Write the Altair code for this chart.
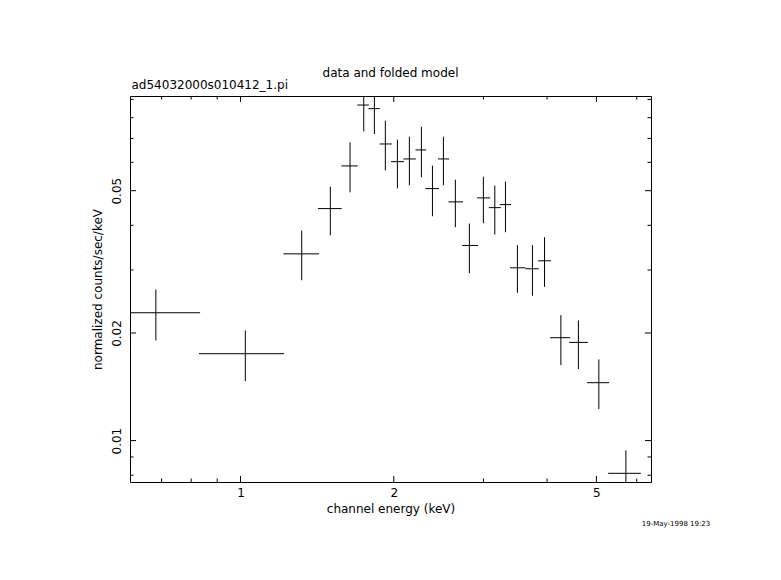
import altair as alt
import pandas as pd

# ---- data ----
energy = [0.682, 1.022, 1.319, 1.501, 1.641, 1.746, 1.832, 1.925, 2.033, 2.146, 2.266, 2.382, 2.503,
          2.642, 2.815, 2.999, 3.158, 3.314, 3.498, 3.744, 3.954, 4.258, 4.609, 5.055, 5.713]
e_lo = [0.607, 0.829, 1.214, 1.420, 1.578, 1.696, 1.783, 1.877, 1.976, 2.089, 2.206, 2.307, 2.443,
        2.560, 2.724, 2.915, 3.074, 3.230, 3.384, 3.627, 3.841, 4.056, 4.420, 4.794, 5.272]
e_hi = [0.833, 1.218, 1.427, 1.580, 1.699, 1.786, 1.877, 1.982, 2.093, 2.210, 2.315, 2.455, 2.568,
        2.736, 2.928, 3.092, 3.245, 3.401, 3.627, 3.854, 4.074, 4.441, 4.809, 5.297, 6.112]
rate = [0.02278, 0.0175, 0.03329, 0.04455, 0.05864, 0.0868, 0.0848, 0.06755, 0.06028, 0.06134, 0.06501,
        0.05067, 0.06134, 0.04652, 0.03513, 0.04773, 0.04483, 0.04571, 0.03043, 0.03024, 0.03183,
        0.0194, 0.01882, 0.01452, 0.0081]
r_lo = [0.01906, 0.01467, 0.02809, 0.03753, 0.04947, 0.07325, 0.07204, 0.057, 0.05077, 0.05176, 0.05448,
        0.04241, 0.05176, 0.03951, 0.02939, 0.04054, 0.0377, 0.03826, 0.02591, 0.02541, 0.02693,
        0.01626, 0.01585, 0.01225, 0.0074]
r_hi = [0.02646, 0.02033, 0.03868, 0.05132, 0.06826, 0.1015, 0.098, 0.07847, 0.06945, 0.07079, 0.07551,
        0.05875, 0.07079, 0.05369, 0.04046, 0.05473, 0.05166, 0.05301, 0.0352, 0.0352, 0.03705,
        0.02243, 0.02168, 0.01687, 0.00939]

x_major = [1, 2, 5]
x_minor = [0.7, 0.8, 0.9, 3, 4, 6]
y_major = [0.01, 0.02, 0.05]
y_minor = [0.008, 0.009, 0.03, 0.04, 0.06, 0.07, 0.08, 0.09]
x_domain = [0.6067, 6.40]
y_domain = [0.00766, 0.0920]

title_text = ["data and folded model"]
file_text = ["ad54032000s010412_1.pi"]
stamp_text = ["19-May-1998 19:23"]
x_title = "channel energy (keV)"
y_title = "normalized counts/sec/keV"

# ---- layout / style ----
W, H = 521, 386
FONT = "DejaVu Sans"
MAJ, MIN = 6, 3.5

xs = alt.Scale(type="log", domain=x_domain, nice=False)
ys = alt.Scale(type="log", domain=y_domain, nice=False)

df = pd.DataFrame(dict(E=energy, Elo=e_lo, Ehi=e_hi, R=rate, Rlo=r_lo, Rhi=r_hi))
base = alt.Chart(df)

xaxis = alt.Axis(values=x_major, format="~g", title=x_title, ticks=False, tickSize=0, domain=False,
                 grid=False, labelFont=FONT, labelFontSize=12, labelColor="black", labelPadding=5,
                 labelFlush=False, titleFont=FONT, titleFontSize=12, titleFontWeight="normal",
                 titleColor="black", titleY=26, titleBaseline="middle")
yaxis = alt.Axis(values=y_major, format=".2f", title=y_title, ticks=False, tickSize=0, domain=False,
                 grid=False, labelFont=FONT, labelFontSize=12, labelColor="black", labelAngle=270,
                 labelAlign="center", labelBaseline="bottom", labelPadding=7, labelFlush=False,
                 titleFont=FONT, titleFontSize=12, titleFontWeight="normal", titleColor="black",
                 titleAngle=270, titleAlign="center", titleBaseline="middle", titleX=-33, titleY=H / 2)

hbars = base.mark_rule(color="black", strokeWidth=1, clip=True).encode(
    x=alt.X("Elo:Q", scale=xs, axis=xaxis), x2="Ehi:Q",
    y=alt.Y("R:Q", scale=ys, axis=yaxis))
vbars = base.mark_rule(color="black", strokeWidth=1, clip=True).encode(
    x=alt.X("E:Q", scale=xs, axis=xaxis),
    y=alt.Y("Rlo:Q", scale=ys, axis=yaxis), y2="Rhi:Q")

layers = [hbars, vbars]


def xticks(vals, length):
    b = alt.Chart(pd.DataFrame({"v": vals})).mark_rule(color="black", strokeWidth=1)
    xe = alt.X("v:Q", scale=xs, axis=xaxis)
    return [b.encode(x=xe, y=alt.value(H), y2=alt.value(H - length)),
            b.encode(x=xe, y=alt.value(0), y2=alt.value(length))]


def yticks(vals, length):
    b = alt.Chart(pd.DataFrame({"v": vals})).mark_rule(color="black", strokeWidth=1)
    ye = alt.Y("v:Q", scale=ys, axis=yaxis)
    return [b.encode(y=ye, x=alt.value(0), x2=alt.value(length)),
            b.encode(y=ye, x=alt.value(W), x2=alt.value(W - length))]


layers += xticks(x_major, MAJ) + xticks(x_minor, MIN) + yticks(y_major, MAJ) + yticks(y_minor, MIN)


def label(texts, x, y, size, align):
    return alt.Chart(pd.DataFrame({"t": texts})).mark_text(
        font=FONT, fontSize=size, color="black", align=align, baseline="middle").encode(
        x=alt.value(x), y=alt.value(y), text="t:N")


layers += [label(title_text, W / 2, -23.5, 12, "center"),
           label(file_text, 1.5, -11, 12, "left"),
           label(stamp_text, 546, 428, 7, "center")]

chart = alt.layer(*layers).properties(
    width=W, height=H,
    padding={"left": 122, "top": 88, "right": 100, "bottom": 80},
    autosize=alt.AutoSizeParams(type="none"),
    background="white",
).configure_view(stroke="black", strokeWidth=1)

chart.save("out.html", embed_options={"renderer": "svg", "actions": False})
